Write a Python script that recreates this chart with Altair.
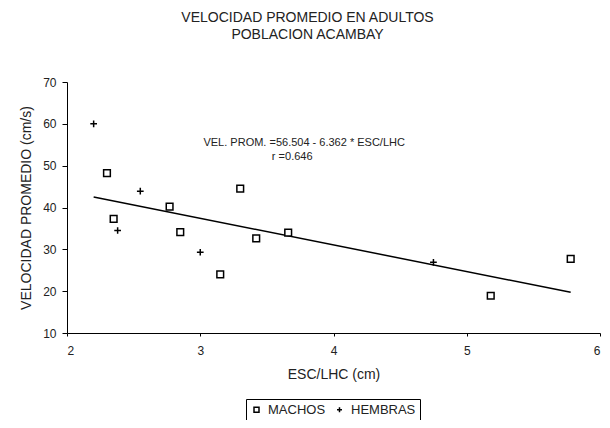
import altair as alt
import pandas as pd

# Data
machos_x = [2.30, 2.35, 2.77, 2.85, 3.15, 3.30, 3.42, 3.66, 5.18, 5.78]
machos_y = [48.2, 37.3, 40.2, 34.1, 24.0, 44.5, 32.6, 34.0, 18.9, 27.7]
hembras_x = [2.20, 2.38, 2.55, 3.00, 4.75]
hembras_y = [60.0, 34.5, 43.9, 29.3, 26.9]
groups = ["MACHOS", "HEMBRAS"]

# Regression reported on the chart
intercept = 56.504
slope = -6.362
eq_lines = ["VEL. PROM. =56.504 - 6.362 * ESC/LHC", "r =0.646"]
eq_x = [3.78, 3.69]
eq_y = [55.4, 52.1]

title_lines = ["VELOCIDAD PROMEDIO EN ADULTOS", "POBLACION ACAMBAY"]
x_ticks = [2, 3, 4, 5, 6]
y_ticks = [10, 20, 30, 40, 50, 60, 70]

FONT = "Liberation Sans"
INK = "#222222"

pts = pd.DataFrame({
    "x": machos_x + hembras_x,
    "y": machos_y + hembras_y,
    "g": [groups[0]] * len(machos_x) + [groups[1]] * len(hembras_x),
})

all_x = machos_x + hembras_x
xmin, xmax = min(all_x), max(all_x)
fit = pd.DataFrame({"x": [xmin, xmax], "y": [intercept + slope * xmin, intercept + slope * xmax]})
eq = pd.DataFrame({"x": eq_x, "y": eq_y, "t": eq_lines})

xs = alt.Scale(domain=[2, 6], nice=False, zero=False)
ys = alt.Scale(domain=[10, 70], nice=False, zero=False)

x_axis = alt.Axis(values=x_ticks, format="d", title="ESC/LHC (cm)", grid=False, tickSize=3,
                  labelPadding=9, titlePadding=11, domainColor="black", tickColor="black",
                  labelFontSize=12, titleFontSize=14, labelColor=INK, titleColor=INK,
                  labelFont=FONT, titleFont=FONT, titleFontWeight="normal")
y_axis = alt.Axis(values=y_ticks, format="d", title="VELOCIDAD PROMEDIO (cm/s)", grid=False, tickSize=5,
                  labelPadding=6, titlePadding=9, domainColor="black", tickColor="black",
                  labelFontSize=12, titleFontSize=14, labelColor=INK, titleColor=INK,
                  labelFont=FONT, titleFont=FONT, titleFontWeight="normal")

legend = alt.Legend(title=None, orient="none", legendX=179, legendY=317,
                    direction="horizontal", strokeColor="black", padding=4,
                    labelFontSize=13, labelFont=FONT, labelColor=INK,
                    symbolSize=25, symbolStrokeWidth=1.5, symbolFillColor="white",
                    columnPadding=7, labelOffset=5)

line = alt.Chart(fit).mark_line(color="black", strokeWidth=1.5).encode(
    x=alt.X("x:Q", scale=xs, axis=x_axis),
    y=alt.Y("y:Q", scale=ys, axis=y_axis),
)

points = alt.Chart(pts).mark_point(filled=False, fill="white", strokeWidth=1.5,
                                   size=45, opacity=1).encode(
    x=alt.X("x:Q", scale=xs),
    y=alt.Y("y:Q", scale=ys),
    shape=alt.Shape("g:N", sort=groups,
                    scale=alt.Scale(domain=groups, range=["square", "M-1,0H1M0,-1V1"]),
                    legend=legend),
    color=alt.Color("g:N", sort=groups,
                    scale=alt.Scale(domain=groups, range=["black", "black"]),
                    legend=legend),
)

text = alt.Chart(eq).mark_text(font=FONT, fontSize=11, color=INK).encode(
    x=alt.X("x:Q", scale=xs),
    y=alt.Y("y:Q", scale=ys),
    text="t:N",
)

chart = alt.layer(line, points, text).properties(
    width=533,
    height=251,
    padding={"left": 59, "top": 74, "right": 2, "bottom": 87},
    autosize=alt.AutoSizeParams(type="none"),
    title=alt.TitleParams(text=title_lines, fontSize=14, font=FONT, fontWeight="normal",
                          color=INK, anchor="middle", dx=-26, offset=34, lineHeight=17),
).configure_view(stroke=None)

chart.save("out.html", embed_options={"renderer": "svg", "actions": False})
